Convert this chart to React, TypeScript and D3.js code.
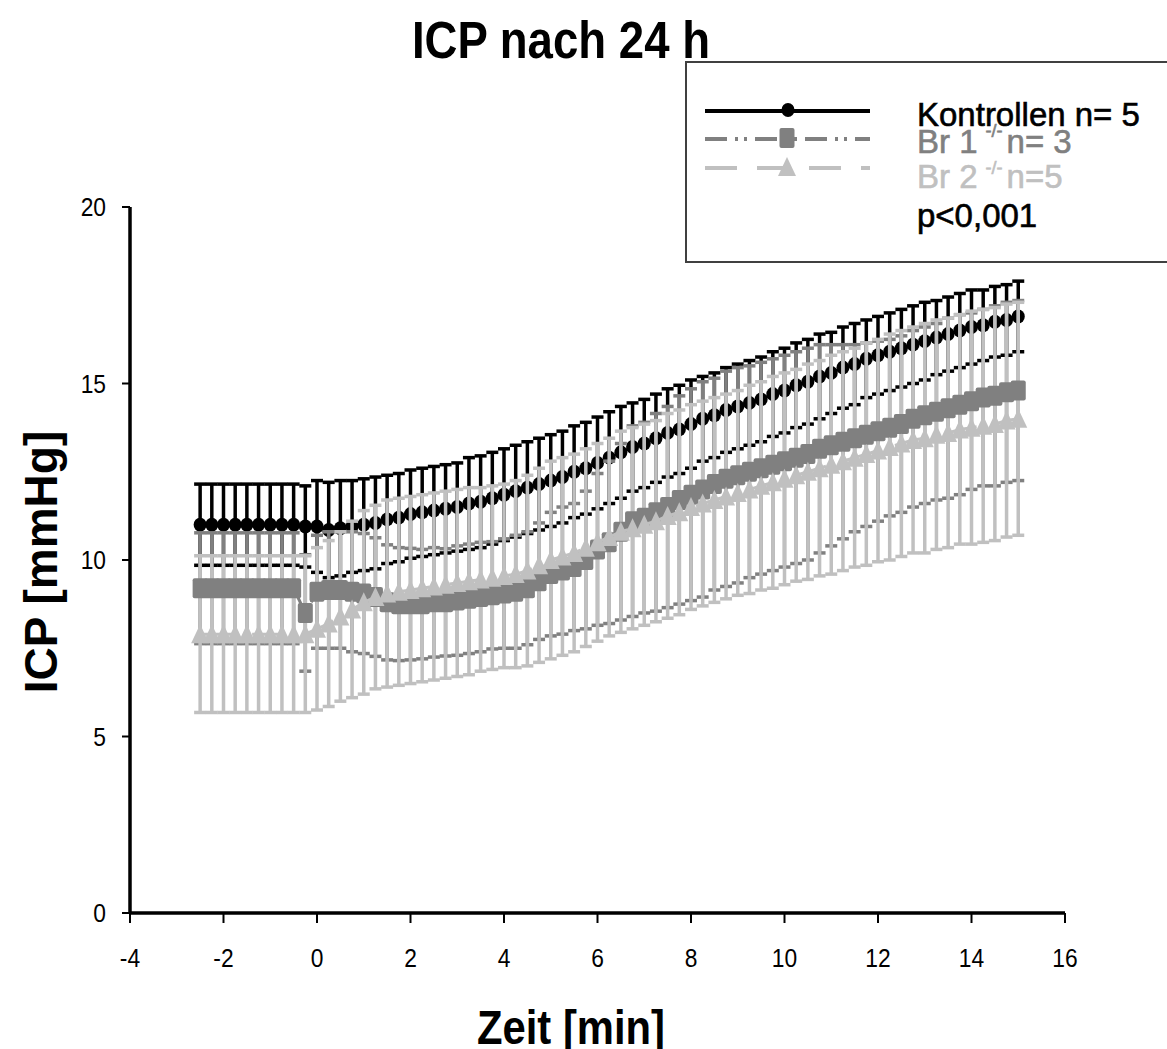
import React from "react";
import * as d3 from "d3";

// time points (min)
const times = [
  -2.5, -2.25, -2, -1.75, -1.5, -1.25, -1, -0.75, -0.5, -0.25,
  0, 0.25, 0.5, 0.75, 1, 1.25, 1.5, 1.75, 2, 2.25, 2.5, 2.75, 3, 3.25, 3.5, 3.75,
  4, 4.25, 4.5, 4.75, 5, 5.25, 5.5, 5.75, 6, 6.25, 6.5, 6.75, 7, 7.25, 7.5, 7.75,
  8, 8.25, 8.5, 8.75, 9, 9.25, 9.5, 9.75, 10, 10.25, 10.5, 10.75, 11, 11.25, 11.5, 11.75,
  12, 12.25, 12.5, 12.75, 13, 13.25, 13.5, 13.75, 14, 14.25, 14.5, 14.75, 15,
];

const kontrollenMean = [
  11.0, 11.0, 11.0, 11.0, 11.0, 11.0, 11.0, 11.0, 11.0, 10.95,
  10.95, 10.85, 10.9, 10.95, 11.0, 11.05, 11.15, 11.2, 11.3, 11.35, 11.4, 11.45, 11.5, 11.6, 11.65, 11.75,
  11.85, 11.95, 12.05, 12.15, 12.25, 12.35, 12.5, 12.6, 12.75, 12.9, 13.05, 13.2, 13.3, 13.45, 13.6, 13.7,
  13.85, 14.0, 14.1, 14.25, 14.35, 14.45, 14.55, 14.7, 14.8, 14.95, 15.05, 15.2, 15.3, 15.45, 15.55, 15.7,
  15.8, 15.9, 16.0, 16.1, 16.2, 16.3, 16.4, 16.5, 16.6, 16.65, 16.75, 16.8, 16.9,
];
const kontrollenSD = [
  1.15, 1.15, 1.15, 1.15, 1.15, 1.15, 1.15, 1.15, 1.15, 1.15,
  1.3, 1.35, 1.35, 1.3, 1.3, 1.3, 1.25, 1.25, 1.25, 1.25, 1.25, 1.25, 1.25, 1.3, 1.3, 1.3,
  1.3, 1.3, 1.3, 1.3, 1.3, 1.3, 1.3, 1.3, 1.3, 1.3, 1.3, 1.25, 1.25, 1.25, 1.25, 1.25,
  1.25, 1.2, 1.2, 1.2, 1.2, 1.2, 1.2, 1.2, 1.2, 1.2, 1.2, 1.2, 1.15, 1.15, 1.15, 1.1,
  1.1, 1.1, 1.1, 1.1, 1.1, 1.05, 1.05, 1.05, 1.05, 1.0, 1.0, 1.0, 1.0,
];

const br1Mean = [
  9.2, 9.2, 9.2, 9.2, 9.2, 9.2, 9.2, 9.2, 9.2, 8.5,
  9.1, 9.15, 9.15, 9.1, 9.05, 8.95, 8.8, 8.75, 8.75, 8.75, 8.8, 8.8, 8.85, 8.9, 8.95, 9.0,
  9.05, 9.1, 9.2, 9.4, 9.6, 9.7, 9.8, 10.0, 10.3, 10.5, 10.8, 11.1, 11.2, 11.35, 11.5, 11.7,
  11.85, 12.0, 12.15, 12.3, 12.4, 12.5, 12.6, 12.7, 12.8, 12.9, 13.0, 13.15, 13.25, 13.35, 13.45, 13.55,
  13.65, 13.75, 13.85, 14.0, 14.1, 14.2, 14.3, 14.4, 14.5, 14.6, 14.65, 14.75, 14.8,
];
const br1SD = [
  1.57, 1.57, 1.57, 1.57, 1.57, 1.57, 1.57, 1.57, 1.57, 1.65,
  1.6, 1.65, 1.65, 1.7, 1.7, 1.68, 1.63, 1.6, 1.58, 1.55, 1.55, 1.52, 1.55, 1.55, 1.55, 1.52,
  1.55, 1.6, 1.6, 1.65, 1.75, 1.8, 1.8, 1.95, 2.15, 2.3, 2.5, 2.7, 2.7, 2.8, 2.85, 2.95,
  3.0, 3.05, 3.0, 3.05, 3.05, 3.0, 3.0, 3.0, 3.0, 3.0, 3.0, 2.95, 2.85, 2.75, 2.65, 2.6,
  2.55, 2.5, 2.5, 2.5, 2.5, 2.5, 2.55, 2.55, 2.5, 2.5, 2.55, 2.55, 2.55,
];

const br2Mean = [
  7.9, 7.9, 7.9, 7.9, 7.9, 7.9, 7.9, 7.9, 7.9, 7.9,
  8.05, 8.2, 8.4, 8.6, 8.8, 8.95, 9.05, 9.1, 9.15, 9.2, 9.25, 9.3, 9.35, 9.4, 9.45, 9.5,
  9.55, 9.6, 9.7, 9.85, 10.0, 10.1, 10.2, 10.35, 10.5, 10.65, 10.8, 10.9, 11.0, 11.1, 11.25, 11.35,
  11.5, 11.6, 11.7, 11.8, 11.9, 12.0, 12.1, 12.2, 12.3, 12.4, 12.5, 12.6, 12.7, 12.8, 12.9, 13.0,
  13.1, 13.2, 13.3, 13.4, 13.45, 13.55, 13.6, 13.7, 13.75, 13.8, 13.85, 13.95, 14.0,
];
const br2SD = [
  2.22, 2.22, 2.22, 2.22, 2.22, 2.22, 2.22, 2.22, 2.22, 2.22,
  2.3, 2.35, 2.4, 2.5, 2.6, 2.6, 2.65, 2.65, 2.65, 2.65, 2.65, 2.65, 2.65, 2.65, 2.6, 2.6,
  2.6, 2.65, 2.7, 2.75, 2.8, 2.8, 2.8, 2.8, 2.8, 2.8, 2.85, 2.85, 2.85, 2.85, 2.9, 2.9,
  2.9, 2.9, 2.9, 2.9, 2.9, 2.95, 2.95, 3.0, 3.0, 3.0, 3.05, 3.05, 3.1, 3.1, 3.1, 3.15,
  3.15, 3.2, 3.2, 3.2, 3.25, 3.25, 3.25, 3.25, 3.3, 3.3, 3.3, 3.3, 3.3,
];

const xTicks = [-4, -2, 0, 2, 4, 6, 8, 10, 12, 14, 16];
const yTicks = [0, 5, 10, 15, 20];

const titleText = "ICP nach 24 h";
const xLabel = "Zeit [min]";
const yLabel = "ICP [mmHg]";
const pText = "p<0,001";

const BLACK = "#000000";
const DARK = "#808080";
const LIGHT = "#c0c0c0";
const FONT = "'Liberation Sans', Arial, Helvetica, sans-serif";

const x = d3.scaleLinear().domain([-4, 16]).range([130, 1065]);
const y = d3.scaleLinear().domain([0, 20]).range([913, 207]);

type Pt = { t: number; m: number; s: number };
const mk = (mean: number[], sd: number[]): Pt[] =>
  times.map((t, i) => ({ t, m: mean[i], s: sd[i] }));

const kData = mk(kontrollenMean, kontrollenSD);
const b1Data = mk(br1Mean, br1SD);
const b2Data = mk(br2Mean, br2SD);

const line = d3
  .line<Pt>()
  .x((d) => x(d.t))
  .y((d) => y(d.m));

const CAP = 12;
const BAR_W = 3.5;

function ErrorBars({ data, color }: { data: Pt[]; color: string }) {
  return (
    <g stroke={color} strokeWidth={BAR_W} fill="none">
      {data.map((d, i) => {
        const cx = x(d.t);
        const y1 = y(d.m + d.s);
        const y0 = y(d.m - d.s);
        return (
          <g key={i}>
            <line x1={cx} x2={cx} y1={y0} y2={y1} />
            <line x1={cx - CAP / 2} x2={cx + CAP / 2} y1={y1} y2={y1} />
            <line x1={cx - CAP / 2} x2={cx + CAP / 2} y1={y0} y2={y0} />
          </g>
        );
      })}
    </g>
  );
}

function Circle({ cx, cy }: { cx: number; cy: number }) {
  return <ellipse cx={cx} cy={cy} rx={6.5} ry={7} fill={BLACK} />;
}
function Square({ cx, cy }: { cx: number; cy: number }) {
  return <rect x={cx - 7.5} y={cy - 10} width={15} height={20} rx={2} fill={DARK} />;
}
function Tri({ cx, cy }: { cx: number; cy: number }) {
  return (
    <path
      d={`M${cx},${cy - 10} L${cx + 9},${cy + 9} L${cx - 9},${cy + 9} Z`}
      fill={LIGHT}
    />
  );
}

export default function App() {
  return (
    <svg
      width={1167}
      height={1049}
      style={{ position: "absolute", left: 0, top: 0, background: "#fff" }}
      fontFamily={FONT}
    >
      <rect x={0} y={0} width={1167} height={1049} fill="#fff" />

      {/* title */}
      <text
        transform="translate(561,58) scale(0.95,1.08)"
        textAnchor="middle"
        fontSize={48}
        fontWeight="bold"
      >
        {titleText}
      </text>

      {/* series: black */}
      <ErrorBars data={kData} color={BLACK} />
      <path d={line(kData) || ""} stroke={BLACK} strokeWidth={3} fill="none" />
      {kData.map((d, i) => (
        <Circle key={i} cx={x(d.t)} cy={y(d.m)} />
      ))}

      {/* error bars gray series */}
      <ErrorBars data={b1Data} color={DARK} />
      <ErrorBars data={b2Data} color={LIGHT} />

      {/* dark gray series */}
      <path
        d={line(b1Data) || ""}
        stroke={DARK}
        strokeWidth={3}
        fill="none"
        strokeDasharray="20,8,3,6,3,8"
      />
      {b1Data.map((d, i) => (
        <Square key={i} cx={x(d.t)} cy={y(d.m)} />
      ))}

      {/* light gray series */}
      <path
        d={line(b2Data) || ""}
        stroke={LIGHT}
        strokeWidth={3}
        fill="none"
        strokeDasharray="32,20"
      />
      {b2Data.map((d, i) => (
        <Tri key={i} cx={x(d.t)} cy={y(d.m)} />
      ))}

      {/* axes */}
      <g stroke="#000" strokeWidth={3.5}>
        <line x1={x(-4)} x2={x(16)} y1={y(0)} y2={y(0)} />
        <line x1={x(-4)} x2={x(-4)} y1={y(0)} y2={y(20)} />
      </g>
      <g stroke="#000" strokeWidth={2}>
        {xTicks.map((t) => (
          <line key={t} x1={x(t)} x2={x(t)} y1={y(0)} y2={y(0) + 10} />
        ))}
        {yTicks.map((v) => (
          <line key={v} x1={x(-4) - 8} x2={x(-4)} y1={y(v)} y2={y(v)} />
        ))}
      </g>
      <g fontSize={24} fill="#000">
        {xTicks.map((t) => (
          <text key={t} transform={`translate(${x(t)},967) scale(0.95,1.1)`} textAnchor="middle">
            {t}
          </text>
        ))}
        {yTicks.map((v) => (
          <text key={v} transform={`translate(106,${y(v) + 9}) scale(0.95,1.1)`} textAnchor="end">
            {v}
          </text>
        ))}
      </g>

      {/* axis titles */}
      <text
        transform="translate(571,1044) scale(0.95,1.08)"
        textAnchor="middle"
        fontSize={44}
        fontWeight="bold"
      >
        {xLabel}
      </text>
      <text
        transform={`translate(57,${562}) rotate(-90)`}
        textAnchor="middle"
        fontSize={46}
        fontWeight="bold"
      >
        {yLabel}
      </text>

      {/* legend */}
      <rect x={686} y={62} width={500} height={200} fill="#fff" stroke="#404040" strokeWidth={2} />
      <line x1={705} x2={870} y1={111} y2={111} stroke={BLACK} strokeWidth={4} />
      <Circle cx={788} cy={110} />
      <line
        x1={705}
        x2={870}
        y1={139}
        y2={139}
        stroke={DARK}
        strokeWidth={4}
        strokeDasharray="22,8,3,6,3,8"
      />
      <Square cx={787} cy={138} />
      <line
        x1={705}
        x2={870}
        y1={168}
        y2={168}
        stroke={LIGHT}
        strokeWidth={4}
        strokeDasharray="32,20"
      />
      <Tri cx={787} cy={167} />
      <g fontSize={33} strokeWidth={0.6}>
        <text x={917} y={126} fill={BLACK} stroke={BLACK}>
          Kontrollen n= 5
        </text>
        <text x={917} y={153} fill={DARK} stroke={DARK}>
          Br 1<tspan fontSize={18} dy={-16} dx={8}>-/-</tspan>
          <tspan dy={16} dx={4}>n= 3</tspan>
        </text>
        <text x={917} y={188} fill={LIGHT} stroke={LIGHT}>
          Br 2<tspan fontSize={18} dy={-14} dx={8}>-/-</tspan>
          <tspan dy={14} dx={4}>n=5</tspan>
        </text>
        <text x={917} y={227} fill={BLACK} stroke={BLACK}>
          {pText}
        </text>
      </g>
    </svg>
  );
}
